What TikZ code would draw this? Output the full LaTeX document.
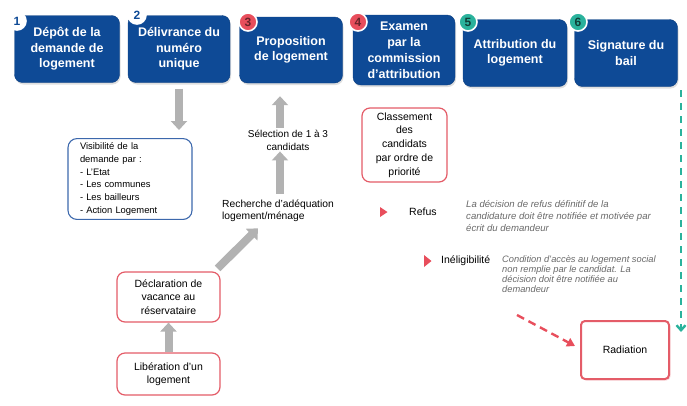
\documentclass[tikz,border=0pt]{standalone}
\usepackage{fontspec}
\setmainfont{Liberation Sans}
\usetikzlibrary{arrows.meta,positioning,shadows}
\definecolor{bleuetape}{RGB}{14,74,150}
\definecolor{rougeclair}{RGB}{232,78,92}
\definecolor{rougecadre}{RGB}{228,92,104}
\definecolor{turquoise}{RGB}{42,178,156}
\definecolor{bleucadre}{RGB}{60,104,172}
\definecolor{grisnote}{RGB}{105,105,105}

\tikzset{
  etape/.style={draw=bleuetape!85!black, fill=bleuetape, rounded corners=8pt, text=white,
    font=\bfseries\fontsize{12.5}{15.5}\selectfont, align=center, minimum width=102pt,
    minimum height=67pt, inner sep=1pt, drop shadow={opacity=0.25, shadow xshift=1pt, shadow yshift=-2pt}},
  pastille/.style={circle, draw=white, line width=1.6pt, minimum size=18pt, inner sep=0pt,
    font=\bfseries\fontsize{12}{12}\selectfont},
  cadrerouge/.style={draw=rougecadre, line width=1.2pt, rounded corners=8pt, fill=white,
    align=center, font=\fontsize{10.5}{13.5}\selectfont, inner sep=2pt},
  texte/.style={align=center, font=\fontsize{10}{13}\selectfont, inner sep=1pt},
  libelle/.style={anchor=west, font=\fontsize{10.5}{12}\selectfont, inner sep=0pt},
  note/.style={align=left, text=grisnote, font=\itshape\fontsize{9.6}{12}\selectfont, inner sep=0pt, anchor=north west},
  fleche/.style={draw=gray!60, line width=8pt, -{Triangle[width=16pt,length=9pt]}}
}

\begin{document}
\begin{tikzpicture}[x=1pt,y=-1pt]
\useasboundingbox (0,0) rectangle (687,405);

% etapes du haut
\node[etape, minimum width=105pt] (depot) at (67,49) {Dépôt de la\\demande de\\logement};
\node[etape] (numero) at (179,49) {Délivrance du\\numéro\\unique};
\node[etape, minimum width=103pt, minimum height=66pt] (proposition) at (291,50) {Proposition\\de logement};
\node[etape, minimum height=70pt, font=\bfseries\fontsize{12.5}{16}\selectfont] (examen) at (404,50) {Examen\\par la\\commission\\d'attribution};
\node[etape, minimum width=104pt] (attribution) at (515,53) {Attribution du\\logement};
\node[etape, minimum width=103pt] (signature) at (626,53) {Signature du\\bail};

% pastilles
\node[pastille, fill=white, text=bleuetape] (p1) at (17,21) {1};
\node[pastille, fill=white, text=bleuetape] (p2) at (137,15) {2};
\node[pastille, fill=rougeclair, text=rougeclair!45!black] (p3) at (248,22) {3};
\node[pastille, fill=rougeclair, text=rougeclair!45!black] (p4) at (358,22) {4};
\node[pastille, fill=turquoise, text=turquoise!35!black] (p5) at (468,22) {5};
\node[pastille, fill=turquoise, text=turquoise!35!black] (p6) at (578,22) {6};

% colonne de gauche
\node[draw=bleucadre, line width=1.1pt, rounded corners=9pt, align=left,
  font=\fontsize{9.4}{12.8}\selectfont, minimum width=124pt, minimum height=78pt,
  text width=100pt, inner sep=4pt] (visibilite) at (130,179)
  {Visibilité de la\\demande par :\\- L'Etat\\- Les communes\\- Les bailleurs\\- Action Logement};

% colonne du milieu
\node[texte] (selection) at (288,140) {Sélection de 1 à 3\\candidats};
\node[texte, align=left, anchor=west, font=\fontsize{10.3}{12.5}\selectfont] (recherche) at (221,211) {Recherche d'adéquation\\logement/ménage};
\node[cadrerouge, minimum width=103pt, minimum height=50pt] (declaration) at (168.5,297) {Déclaration de\\vacance au\\réservataire};
\node[cadrerouge, minimum width=103pt, minimum height=42pt] (liberation) at (168.5,374) {Libération d'un\\logement};

% colonne examen
\node[cadrerouge, minimum width=85pt, minimum height=74pt, font=\fontsize{10.5}{13.8}\selectfont] (classement) at (404.5,145) {Classement\\des\\candidats\\par ordre de\\priorité};

% refus et ineligibilite
\fill[rougeclair] (380,207) -- (387.5,212) -- (380,217) -- cycle;
\node[libelle] (refus) at (409,212) {Refus};
\node[note] (noterefus) at (466,200) {La décision de refus définitif de la\\candidature doit être notifiée et motivée par\\écrit du demandeur};
\fill[rougeclair] (424,255) -- (431.5,261) -- (424,267) -- cycle;
\node[libelle] (ineligibilite) at (441,261) {Inéligibilité};
\node[note, font=\itshape\fontsize{9.3}{10.2}\selectfont] (noteinelig) at (502,255) {Condition d'accès au logement social\\non remplie par le candidat. La\\décision doit être notifiée au\\demandeur};

% radiation
\node[draw=rougecadre, line width=2pt, rounded corners=4pt, minimum width=88pt, minimum height=58pt,
  font=\fontsize{10.5}{12}\selectfont, fill=white,
  drop shadow={opacity=0.35, shadow xshift=1.5pt, shadow yshift=-1.5pt, fill=rougecadre!60}] (radiation) at (625,350) {Radiation};

% fleches grises
\draw[fleche] ([yshift=-6pt]numero.south) -- ([yshift=8pt]numero.south |- visibilite.north);
\draw[fleche] ([xshift=-8pt,yshift=1pt]selection.north) -- ([xshift=-11pt,yshift=-13pt]proposition.south);
\draw[fleche] ([xshift=-8pt,yshift=5pt]selection.south |- recherche.north) -- ([xshift=-8pt]selection.south);
\draw[fleche] ([xshift=-3pt,yshift=3pt]declaration.north east) -- ([xshift=37pt,yshift=-5pt]recherche.south west);
\draw[fleche] (liberation.north) -- (declaration.south);

% fleches pointillees
\coordinate (depart) at (517,315);
\coordinate (haut) at (681,90);
\coordinate (bas) at (681,332);
\draw[draw=rougeclair, line width=2.4pt, dash pattern=on 8pt off 5pt, -{Triangle[width=9pt,length=8pt]}]
  (depart) -- ([xshift=-5pt,yshift=4pt]radiation.west);
\draw[draw=turquoise, line width=2.4pt, dash pattern=on 7pt off 6pt, -{Straight Barb[width=9pt,length=5pt]}]
  (haut) -- (bas);
\end{tikzpicture}
\end{document}
